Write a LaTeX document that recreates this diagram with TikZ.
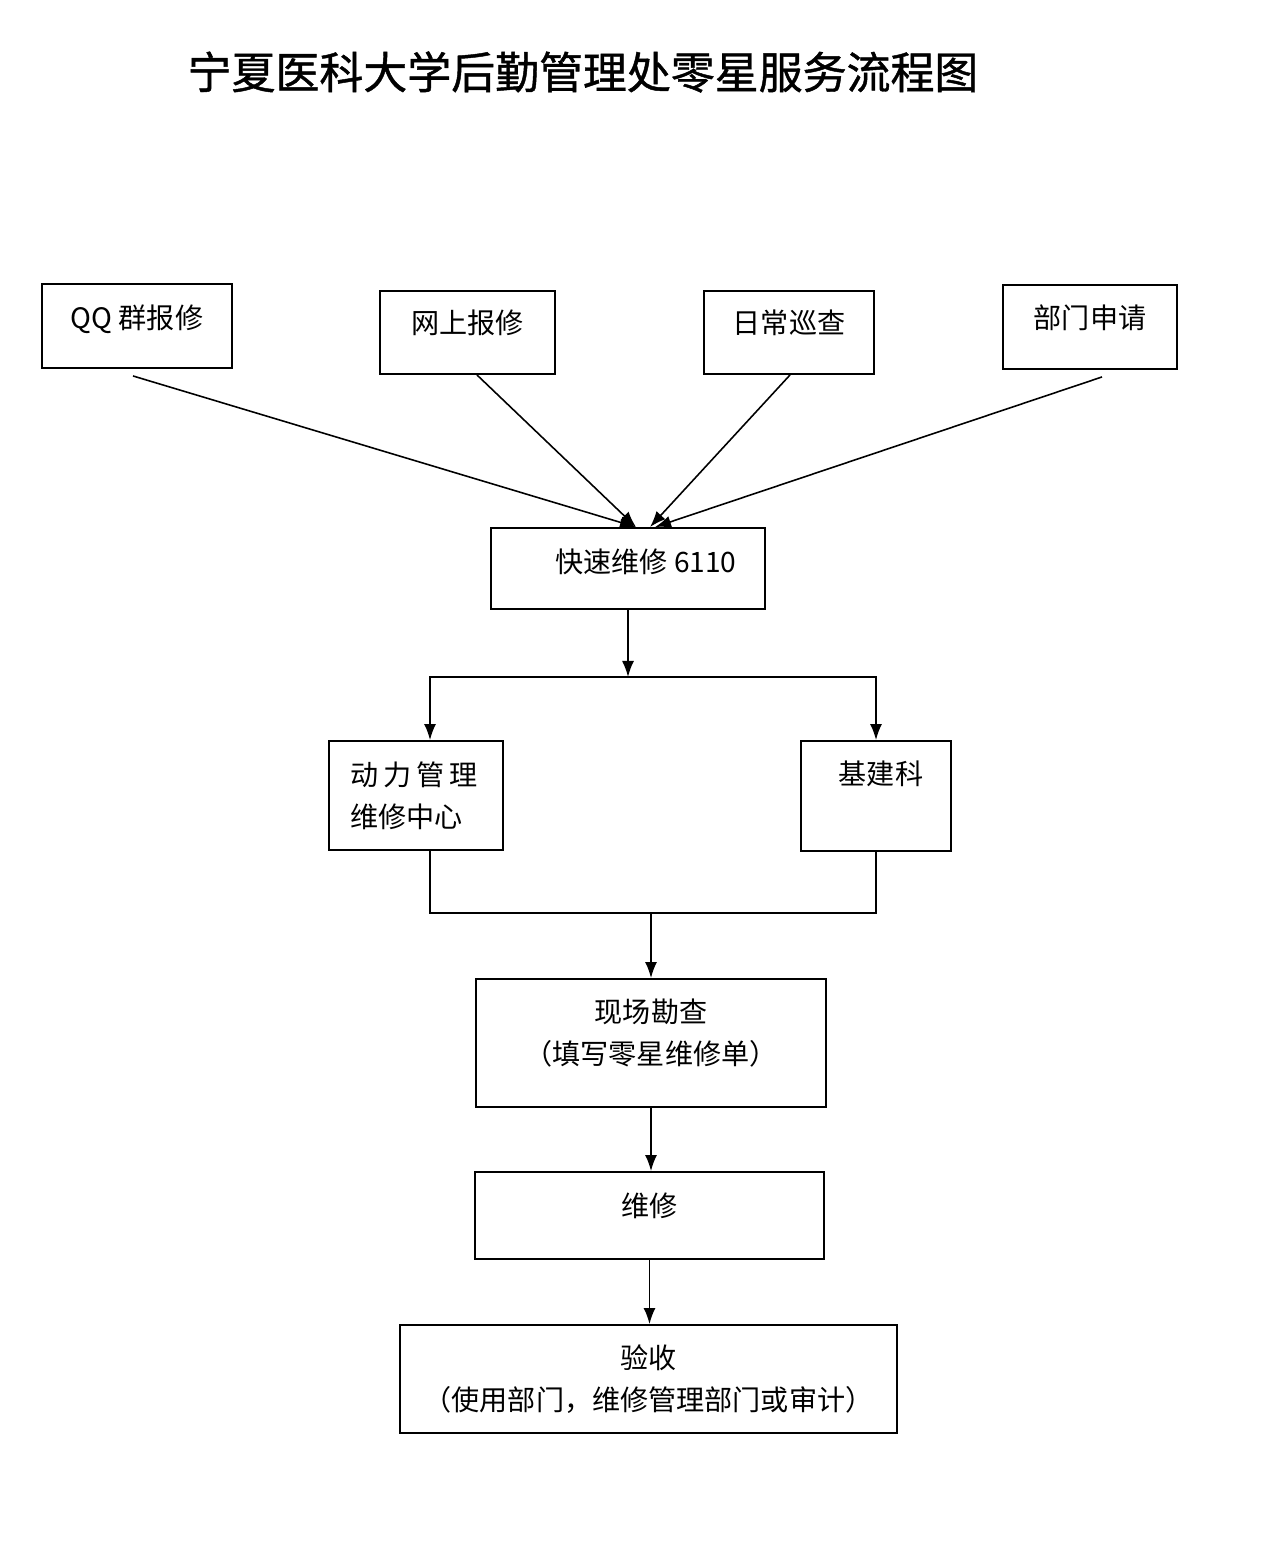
\documentclass[tikz,border=0pt]{standalone}
\usepackage{fontspec}
\setmainfont{Noto Sans CJK SC}
\newfontfamily\titlefont[FakeBold=1]{Noto Sans CJK SC}
\usetikzlibrary{arrows.meta}
\begin{document}
\begin{tikzpicture}[
    >={Latex[length=0.32cm, width=0.24cm]},
    block/.style={rectangle, draw, line width=1.1pt, inner sep=0pt, align=center, font=\fontsize{16}{24}\selectfont},
    line/.style={line width=0.9pt},
    lift/.style={text depth=#1}
]
\useasboundingbox (0,0) rectangle (25.34,-31.06);
% 标题
\node at (11.66,-1.44) (title) {\fontsize{25}{30}\selectfont\titlefont 宁夏医科大学后勤管理处零星服务流程图};

% 报修渠道
\node[block, minimum width=3.8cm, minimum height=1.68cm, lift=0.37cm] at (2.74,-6.52) (qq) {QQ 群报修};
\node[block, minimum width=3.5cm, minimum height=1.66cm, lift=0.45cm] at (9.35,-6.65) (web) {网上报修};
\node[block, minimum width=3.4cm, minimum height=1.66cm, lift=0.45cm] at (15.78,-6.65) (daily) {日常巡查};
\node[block, minimum width=3.48cm, minimum height=1.68cm, lift=0.41cm] at (21.8,-6.54) (dept) {部门申请};

% 快速维修
\node[block, minimum width=5.48cm, minimum height=1.62cm, lift=0.31cm] at (12.56,-11.37) (fast) {\hspace*{0.72cm}快速维修 6110};

% 分派
\node[block, align=left, text width=2.64cm, inner xsep=0.42cm, minimum height=2.18cm] at (8.32,-15.91) (power) {动\kern0.1cm 力\kern0.1cm 管\kern0.1cm 理\\维修中心};
\node[block, minimum width=3.0cm, minimum height=2.2cm, lift=0.93cm] at (17.52,-15.92) (build) {\hspace*{0.2cm}基建科};

% 勘查、维修、验收
\node[block, minimum width=7.0cm, minimum height=2.56cm, lift=0.45cm] at (13.02,-20.86) (survey) {现场勘查\\（填写零星维修单）};
\node[block, minimum width=6.98cm, minimum height=1.74cm, lift=0.43cm] at (12.99,-24.31) (repair) {维修};
\node[block, minimum width=9.94cm, minimum height=2.16cm] at (12.97,-27.58) (accept) {验收\\（使用部门，维修管理部门或审计）};

% 汇入快速维修
\draw[line, ->] ([xshift=-0.08cm, yshift=-0.14cm]qq.south) -- ([xshift=0.16cm]fast.north);
\draw[line, ->] ([xshift=0.19cm]web.south) -- ([xshift=0.16cm]fast.north);
\draw[line, ->] ([xshift=0.02cm]daily.south) -- ([xshift=0.44cm]fast.north);
\draw[line, ->] ([xshift=0.24cm, yshift=-0.14cm]dept.south) -- ([xshift=0.54cm]fast.north);

% 分支
\coordinate (split) at ([yshift=-1.34cm]fast.south);
\draw[line, ->] (fast.south) -- (split);
\draw[line, ->] (split) -| ([xshift=0.28cm]power.north);
\draw[line, ->] (split) -| (build.north);

% 合并
\coordinate (merge) at ([yshift=1.3cm]survey.north);
\draw[line] ([xshift=0.28cm]power.south) |- (merge) -| (build.south);
\draw[line, ->] (merge) -- (survey.north);
\draw[line, ->] (survey.south) -- (survey.south |- repair.north);
\draw[line, ->] (repair.south) -- (repair.south |- accept.north);
\end{tikzpicture}
\end{document}
